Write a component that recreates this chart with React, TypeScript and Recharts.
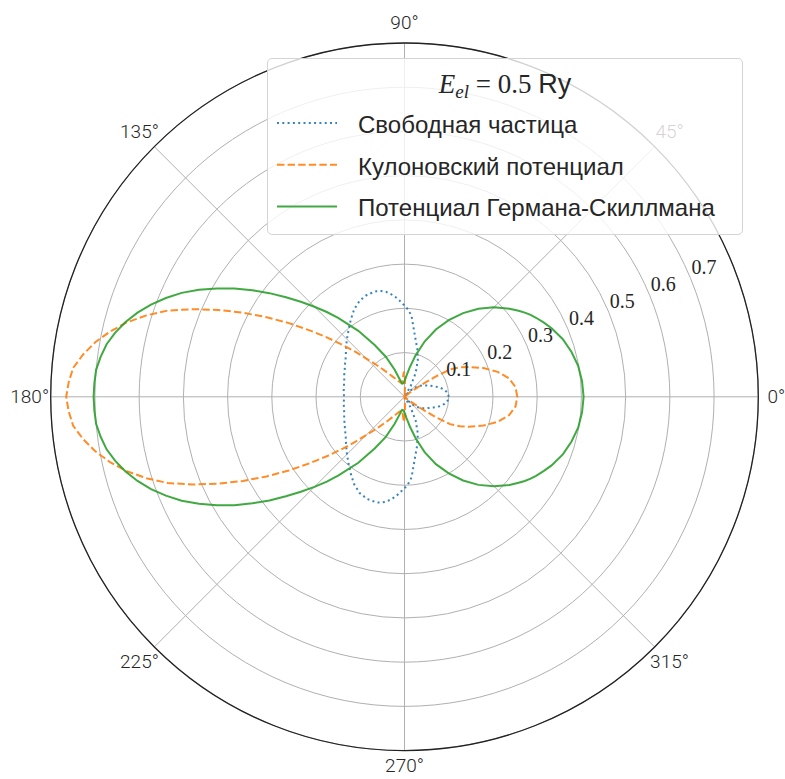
import {
  Legend,
  PolarAngleAxis,
  PolarGrid,
  PolarRadiusAxis,
  Radar,
  RadarChart,
} from "recharts";

// Angles (deg) from 0 to 180; the curves are symmetric about the 0–180 axis.
const HALF_ANGLES = [
  0, 5, 10, 15, 20, 25, 28, 31, 33, 35, 37, 40, 45, 50, 55, 60, 65, 70, 75, 80,
  85, 87, 89, 91, 93, 95, 97.5, 100, 102.5, 105, 110, 115, 120, 125, 130, 132.5,
  135, 137.5, 140, 142.5, 145, 147.5, 150, 152.5, 155, 157.5, 160, 162.5, 165,
  167.5, 170, 172.5, 175, 177.5, 180,
];

// Free particle (dotted blue)
const FREE = [
  0.1, 0.098, 0.092, 0.082, 0.07, 0.06, 0.055, 0.05, 0.047, 0.044, 0.04, 0.034,
  0.022, 0.01, 0.002, 0.028, 0.06, 0.088, 0.112, 0.138, 0.183, 0.194, 0.203,
  0.21, 0.218, 0.226, 0.234, 0.241, 0.245, 0.247, 0.246, 0.24, 0.228, 0.212,
  0.197, 0.19, 0.184, 0.178, 0.172, 0.167, 0.162, 0.158, 0.155, 0.152, 0.149,
  0.147, 0.145, 0.143, 0.141, 0.14, 0.139, 0.1385, 0.138, 0.137, 0.137,
];

// Coulomb potential (dashed orange)
const COULOMB = [
  0.255, 0.252, 0.24, 0.218, 0.19, 0.16, 0.142, 0.12, 0.085, 0.05, 0.02, 0.006,
  0, 0, 0, 0, 0, 0, 0, 0, 0.005, 0.02, 0.045, 0.057, 0.05, 0.042, 0.036, 0.032,
  0.032, 0.033, 0.037, 0.043, 0.052, 0.066, 0.088, 0.103, 0.122, 0.15, 0.182,
  0.22, 0.262, 0.31, 0.36, 0.412, 0.465, 0.518, 0.57, 0.612, 0.65, 0.682, 0.71,
  0.733, 0.752, 0.76, 0.765,
];

// Herman–Skillman potential (solid green)
const HS = [
  0.405, 0.403, 0.399, 0.391, 0.381, 0.367, 0.357, 0.347, 0.34, 0.332, 0.323,
  0.31, 0.286, 0.26, 0.231, 0.2, 0.168, 0.133, 0.097, 0.067, 0.047, 0.041,
  0.037, 0.034, 0.032, 0.031, 0.03, 0.03, 0.033, 0.04, 0.065, 0.1, 0.135, 0.182,
  0.232, 0.26, 0.288, 0.318, 0.35, 0.385, 0.42, 0.456, 0.49, 0.524, 0.556,
  0.584, 0.61, 0.633, 0.653, 0.67, 0.684, 0.693, 0.7, 0.702, 0.703,
];

const ANGLE_TICKS = [0, 45, 90, 135, 180, 225, 270, 315];
const RADIUS_TICKS = [0, 0.1, 0.2, 0.3, 0.4, 0.5, 0.6, 0.7, 0.8];

const SERIES = [
  { key: "free", name: "Свободная частица", color: "#1f77b4", dash: "2 3.3" },
  { key: "coulomb", name: "Кулоновский потенциал", color: "#ff7f0e", dash: "7.4 3.2" },
  { key: "hs", name: "Потенциал Германа-Скиллмана", color: "#2ca02c", dash: undefined },
];

const row = (i: number, angle: number) => ({
  angle,
  free: FREE[i],
  coulomb: COULOMB[i],
  hs: HS[i],
});

const data = [
  ...HALF_ANGLES.map((a, i) => row(i, a)),
  ...HALF_ANGLES.map((a, i) => row(i, 360 - a))
    .filter((d) => d.angle > 180 && d.angle < 360)
    .reverse(),
];

const SANS = "'Liberation Sans', Arial, sans-serif";
const THIN = "Roboto, 'Liberation Sans', sans-serif";
const SERIF = "'Liberation Serif', 'DejaVu Serif', serif";

// small nudges so the edge labels stay inside the picture
const NUDGE: Record<number, [number, number]> = { 0: [-3, 0], 270: [0, -6] };

function AngleTick(props: any) {
  const { x, y, payload } = props;
  const [dx, dy] = NUDGE[payload.value] ?? [0, 0];
  return (
    <text
      x={x + dx}
      y={y + dy}
      textAnchor="middle"
      dominantBaseline="central"
      fontSize={19}
      fontWeight={300}
      fontFamily={THIN}
      fill="#262626"
    >
      {payload.value}°
    </text>
  );
}

function RadiusTick(props: any) {
  const { x, y, payload } = props;
  const v = Number(payload.value);
  if (v < 0.05 || v > 0.75) return <g />;
  return (
    <text x={x + 1} y={y - 4} fontSize={20} fontFamily={SERIF} fill="#262626">
      {v.toFixed(1)}
    </text>
  );
}

function LegendBox() {
  return (
    <div
      style={{
        width: 476,
        height: 177,
        boxSizing: "border-box",
        border: "1px solid #d4d4d4",
        borderRadius: 5,
        background: "rgba(255,255,255,0.8)",
      }}
    >
      <svg width={474} height={175} style={{ display: "block" }}>
        <text x={237} y={34} textAnchor="middle" fontSize={27} fill="#262626">
          <tspan fontFamily={SERIF} fontStyle="italic">E</tspan>
          <tspan fontFamily={SERIF} fontStyle="italic" fontSize={19} dy={5}>
            el
          </tspan>
          <tspan fontFamily={SERIF} dy={-5}> = 0.5 </tspan>
          <tspan fontFamily={SANS}>Ry</tspan>
        </text>
        {SERIES.map((s, i) => {
          const cy = 64 + i * 41.7;
          return (
            <g key={s.key}>
              <line
                x1={9}
                x2={69}
                y1={cy}
                y2={cy}
                stroke={s.color}
                strokeOpacity={0.9}
                strokeWidth={2}
                strokeDasharray={s.dash}
              />
              <text x={90} y={cy + 10} fontSize={24} fontFamily={SANS} fill="#262626">
                {s.name}
              </text>
            </g>
          );
        })}
      </svg>
    </div>
  );
}

export default function App() {
  return (
    <div
      style={{
        position: "absolute",
        left: 0,
        top: 0,
        width: 785,
        height: 779,
        background: "#fff",
      }}
    >
      <RadarChart
        width={785}
        height={779}
        data={data}
        cx={404.5}
        cy={396.8}
        outerRadius={353.8}
        startAngle={0}
        endAngle={360}
        margin={{ top: 0, right: 0, bottom: 0, left: 0 }}
      >
        <PolarGrid
          gridType="circle"
          stroke="#b0b0b0"
          strokeWidth={1}
          angleAxisId={0}
          radiusAxisId={0}
        />
        <PolarAngleAxis
          angleAxisId={0}
          dataKey="angle"
          type="number"
          domain={[0, 360]}
          ticks={ANGLE_TICKS}
          tick={AngleTick}
          tickLine={false}
          tickSize={21}
          axisLineType="circle"
          axisLine={{ stroke: "#222", strokeWidth: 1.3 }}
        />
        <PolarRadiusAxis
          radiusAxisId={0}
          type="number"
          scale="linear"
          domain={[0, 0.8]}
          ticks={RADIUS_TICKS}
          tickCount={9}
          allowDecimals
          allowDataOverflow
          angle={22.5}
          axisLine={false}
          tickLine={false}
          tick={RadiusTick}
        />
        {SERIES.map((s) => (
          <Radar
            key={s.key}
            angleAxisId={0}
            radiusAxisId={0}
            dataKey={s.key}
            name={s.name}
            stroke={s.color}
            strokeOpacity={0.9}
            strokeWidth={2}
            strokeDasharray={s.dash}
            fill="none"
            fillOpacity={0}
            dot={false}
            isAnimationActive={false}
          />
        ))}
        <Legend
          layout="vertical"
          align="center"
          verticalAlign="middle"
          content={<LegendBox />}
          wrapperStyle={{ left: 267, top: 58, width: 476, height: 177 }}
        />
      </RadarChart>
    </div>
  );
}
